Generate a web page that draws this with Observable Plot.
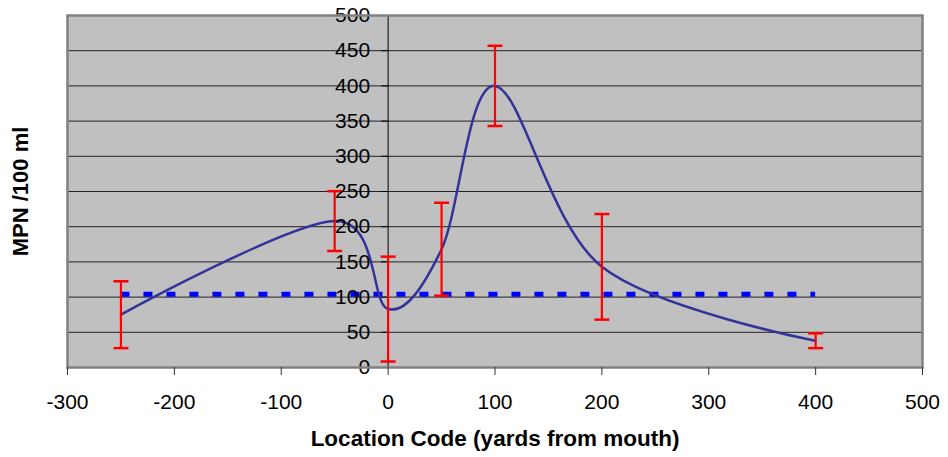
<!DOCTYPE html>
<html>
<head>
<meta charset="utf-8">
<script src="https://cdn.jsdelivr.net/npm/d3@7"></script>
<script src="https://cdn.jsdelivr.net/npm/@observablehq/plot@0.6"></script>
<style>
  html, body { margin: 0; padding: 0; background: #fff; }
</style>
</head>
<body>
<div id="chart"></div>
<script>
// ---- data ----
const locations = [-250, -50, 0, 50, 100, 200, 400];      // yards from mouth
const mpn       = [75, 208, 83, 168, 400, 143, 38];       // MPN / 100 ml (mean)
const errors    = [47.5, 42.5, 74.5, 66, 57, 75, 10.5];   // +/- error
const refLevel  = 104;                                    // dashed reference line
const refRange  = [-250, 400];
const xTicks = [-300, -200, -100, 0, 100, 200, 300, 400, 500];
const yTicks = [0, 50, 100, 150, 200, 250, 300, 350, 400, 450, 500];
const xTitle = "Location Code (yards from mouth)";
const yTitle = "MPN /100 ml";

const points = locations.map((x, i) => ({
  x, y: mpn[i], lo: mpn[i] - errors[i], hi: mpn[i] + errors[i]
}));

const leftTick = { draw(ctx) { ctx.moveTo(-7, 0); ctx.lineTo(0, 0); } };
const cap = { draw(ctx) { ctx.moveTo(-7.5, 0); ctx.lineTo(7.5, 0); } };

const font = "'Liberation Sans', Arial, Helvetica, sans-serif";

const chart = Plot.plot({
  width: 948,
  height: 457,
  marginLeft: 67,
  marginRight: 26,
  marginTop: 15,
  marginBottom: 90,
  style: { fontFamily: font, fontSize: "21px", background: "#fff", color: "#000" },
  x: { domain: [-300, 500] },
  y: { domain: [0, 500], axis: null },
  marks: [
    Plot.frame({ fill: "#c0c0c0" }),
    Plot.ruleY(yTicks, { stroke: "#222", strokeWidth: 1 }),
    Plot.ruleX([0], { stroke: "#000", strokeWidth: 1 }),
    Plot.dot(yTicks, { x: 0, y: d => d, symbol: leftTick, stroke: "#000", strokeWidth: 1, fill: "none" }),
    Plot.ruleY([refLevel], { x1: refRange[0], x2: refRange[1], stroke: "#0000ff", strokeWidth: 5, strokeDasharray: "9,14" }),
    Plot.line(points, { x: "x", y: "y", curve: "cardinal", stroke: "#333399", strokeWidth: 2.5 }),
    Plot.ruleX(points, { x: "x", y1: "lo", y2: "hi", stroke: "#ff0000", strokeWidth: 2.2 }),
    Plot.dot(points, { x: "x", y: "lo", symbol: cap, stroke: "#ff0000", strokeWidth: 2.5, fill: "none" }),
    Plot.dot(points, { x: "x", y: "hi", symbol: cap, stroke: "#ff0000", strokeWidth: 2.5, fill: "none" }),
    Plot.text(yTicks, { x: 0, y: d => d, dx: -18, textAnchor: "end", fontSize: 21, fill: "#000" }),
    Plot.frame({ stroke: "#808080", strokeWidth: 2.5 }),
    Plot.axisX(xTicks, { label: null, tickSize: 8, tickPadding: 19, fontSize: 21, stroke: "#333", tickFormat: d => String(d) }),
    Plot.text([xTitle], { frameAnchor: "bottom", dy: 71, lineAnchor: "middle", textAnchor: "middle", fontSize: 22.5, fontWeight: "bold", fill: "#000" }),
    Plot.text([yTitle], { frameAnchor: "left", dx: -47, rotate: -90, lineAnchor: "middle", textAnchor: "middle", fontSize: 22, fontWeight: "bold", fill: "#000" })
  ]
});

document.getElementById("chart").appendChild(chart);
</script>
</body>
</html>
